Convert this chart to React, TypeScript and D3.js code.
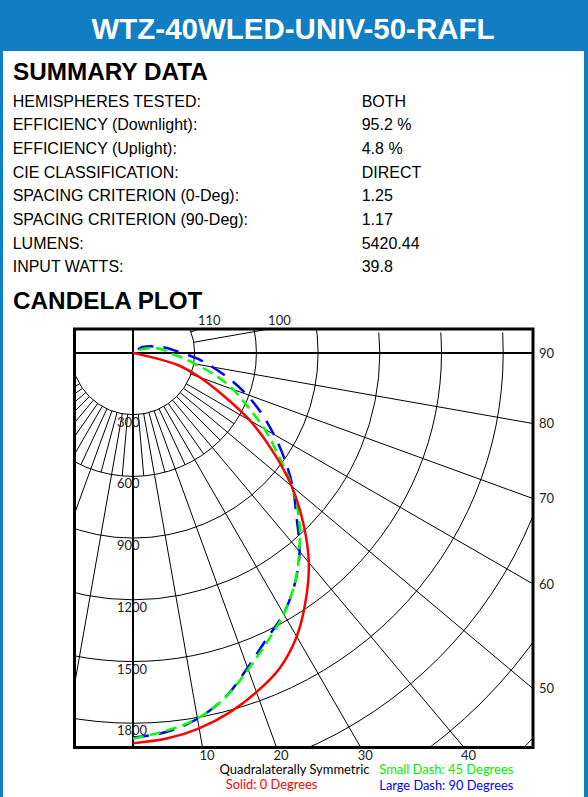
import React from 'react';
import * as d3 from 'd3';

const TITLE = 'WTZ-40WLED-UNIV-50-RAFL';
const SUMMARY_LABELS = [
  'HEMISPHERES TESTED:',
  'EFFICIENCY (Downlight):',
  'EFFICIENCY (Uplight):',
  'CIE CLASSIFICATION:',
  'SPACING CRITERION (0-Deg):',
  'SPACING CRITERION (90-Deg):',
  'LUMENS:',
  'INPUT WATTS:',
];
const SUMMARY_VALUES = ['BOTH', '95.2 %', '4.8 %', 'DIRECT', '1.25', '1.17', '5420.44', '39.8'];

// vertical angles (deg from nadir)
const ANGLES = [0, 5, 10, 15, 20, 25, 30, 35, 40, 45, 50, 55, 60, 65, 70, 75, 80, 85, 90, 95, 100, 105, 110, 115, 120, 125, 130, 135];
// candela per horizontal plane
const CD_0 = [1897, 1882, 1853, 1810, 1755, 1690, 1592, 1465, 1330, 1171, 1007, 827, 656, 478, 345, 225, 15, 0, 0, 0, 0, 0, 0, 0, 0, 0, 0, 0];
const CD_45 = [1875, 1844, 1804, 1734, 1637, 1547, 1466, 1370, 1258, 1142, 1009, 860, 738, 614, 518, 413, 304, 234, 178, 154, 125, 95, 65, 35, 15, 0, 0, 0];
const CD_90 = [1870, 1850, 1806, 1733, 1629, 1535, 1464, 1371, 1260, 1124, 1014, 900, 790, 687, 586, 486, 392, 315, 239, 190, 155, 118, 95, 75, 60, 40, 20, 0];

const RINGS = [300, 600, 900, 1200, 1500, 1800, 2100, 2400, 2700];
const RING_LABELS = [300, 600, 900, 1200, 1500, 1800];
const MAJOR_ANGLES = [-80, -70, -60, -50, -40, -30, -20, -10, 0, 10, 20, 30, 40, 50, 60, 70, 80, 90, 100, 110, 120];
const MINOR_ANGLES = [-55, -45, -35, -25, -15, -5, 5, 15, 25, 35, 45, 55];
const BOTTOM_LABELS = [10, 20, 30, 40];
const RIGHT_LABELS = [50, 60, 70, 80, 90];
const TOP_LABELS = [100, 110];

const W = 588;
const H = 797;
const CX = 133;
const CY = 353;
const L = 74.5;
const R = 533;
const T = 329;
const B = 747.5;
const BLUE = '#117dc2';

const rS = d3.scaleLinear().domain([0, 300]).range([0, 61.7]);
const rad = (d: number) => (d * Math.PI) / 180;
const xy = (deg: number, r: number): [number, number] => [CX + r * Math.sin(rad(deg)), CY + r * Math.cos(rad(deg))];

function curvePath(vals: number[]) {
  const pts: [number, number][] = [];
  for (let i = 0; i < ANGLES.length; i++) {
    pts.push(xy(ANGLES[i], rS(vals[i])));
    if (vals[i] === 0) break;
  }
  return d3.line<[number, number]>().curve(d3.curveCatmullRom.alpha(0.5))(pts) || '';
}

export default function App() {
  const plotFont = 'Lato, "Open Sans", sans-serif';
  const headFont = '"Liberation Sans", Arial, sans-serif';
  return (
    <svg width={W} height={H} style={{ position: 'absolute', left: 0, top: 0, display: 'block', background: '#fff' }}>
      <defs>
        <clipPath id="box">
          <rect x={L} y={T} width={R - L} height={B - T} />
        </clipPath>
        <clipPath id="boxArc">
          <rect x={L} y={T + 3.5} width={R - L} height={B - T - 3.5} />
        </clipPath>
      </defs>
      <rect x={0} y={0} width={W} height={H} fill="#fff" />
      {/* frame */}
      <rect x={0} y={0} width={W} height={51} fill={BLUE} />
      <rect x={0} y={0} width={3} height={H} fill={BLUE} />
      <rect x={584} y={0} width={4} height={H} fill={BLUE} />
      <text x={293} y={38.5} textAnchor="middle" fill="#fff" fontFamily={headFont} fontWeight="bold" fontSize={29.5}>
        {TITLE}
      </text>
      <text x={13} y={79.5} fill="#000" fontFamily={headFont} fontWeight="bold" fontSize={24.3}>SUMMARY DATA</text>
      {SUMMARY_LABELS.map((s, i) => (
        <text key={'l' + i} x={12.7} y={106.7 + i * 23.66} fontFamily={headFont} fontSize={16} fill="#000">{s}</text>
      ))}
      {SUMMARY_VALUES.map((s, i) => (
        <text key={'v' + i} x={361.7} y={106.7 + i * 23.66} fontFamily={headFont} fontSize={16} fill="#000">{s}</text>
      ))}
      <text x={13} y={309} fill="#000" fontFamily={headFont} fontWeight="bold" fontSize={24.3}>CANDELA PLOT</text>

      {/* grid */}
      <g clipPath="url(#box)" stroke="#000" strokeWidth={1} fill="none">
        {MAJOR_ANGLES.map((a) => {
          const [x1, y1] = xy(a, rS(300));
          const [x2, y2] = xy(a, 900);
          return <line key={'ma' + a} x1={x1} y1={y1} x2={x2} y2={y2} />;
        })}
        {MINOR_ANGLES.map((a) => {
          const [x1, y1] = xy(a, rS(300));
          const [x2, y2] = xy(a, rS(600));
          return <line key={'mi' + a} x1={x1} y1={y1} x2={x2} y2={y2} />;
        })}
        {RINGS.filter((c) => c <= 900).map((c) => (
          <circle key={'r' + c} cx={CX} cy={CY} r={rS(c)} />
        ))}
      </g>
      <g clipPath="url(#boxArc)" stroke="#000" strokeWidth={1} fill="none">
        {RINGS.filter((c) => c > 900).map((c) => (
          <circle key={'r' + c} cx={CX} cy={CY} r={rS(c)} />
        ))}
      </g>
      {/* axes */}
      <line x1={L} x2={R} y1={CY} y2={CY} stroke="#000" strokeWidth={2} />
      <line x1={CX} x2={CX} y1={T} y2={B} stroke="#000" strokeWidth={2} />

      {/* ring labels */}
      {RING_LABELS.map((c) => (
        <text key={'rl' + c} x={117} y={CY + rS(c) + 12} fontFamily={plotFont} fontSize={13} fill="#222">{c}</text>
      ))}

      {/* curves */}
      <g clipPath="url(#box)" fill="none" strokeLinecap="butt">
        <path d={curvePath(CD_90)} stroke="#0000ff" strokeWidth={2.5} strokeDasharray="16,10" />
        <path d={curvePath(CD_45)} stroke="#00ff00" strokeWidth={2.5} strokeDasharray="11,6" />
        <path d={curvePath(CD_0)} stroke="#ff0000" strokeWidth={2.5} />
      </g>

      {/* box */}
      <rect x={L} y={T} width={R - L} height={B - T} fill="none" stroke="#000" strokeWidth={3} />

      {/* angle labels */}
      {BOTTOM_LABELS.map((a) => (
        <text key={'b' + a} x={CX + (B - CY) * Math.tan(rad(a)) - 3} y={760} fontFamily={plotFont} fontSize={13} fill="#222">{a}</text>
      ))}
      {RIGHT_LABELS.map((a) => (
        <text key={'rt' + a} x={539} y={(a === 90 ? CY : CY + (R - CX) / Math.tan(rad(a))) + 4.7} fontFamily={plotFont} fontSize={13} fill="#222">{a}</text>
      ))}
      {TOP_LABELS.map((a) => (
        <text key={'t' + a} x={CX + (CY - T) * Math.tan(rad(180 - a)) - 1} y={325} fontFamily={plotFont} fontSize={13} fill="#222">{a}</text>
      ))}

      {/* legend */}
      <text x={219.5} y={773.5} fontFamily={plotFont} fontSize={12.4} textLength={150} lengthAdjust="spacingAndGlyphs" fill="#000">Quadralaterally Symmetric</text>
      <text x={225.7} y={788.5} fontFamily={plotFont} fontSize={12.4} textLength={91.6} lengthAdjust="spacingAndGlyphs" fill="#ff0000">Solid: 0 Degrees</text>
      <text x={379.3} y={774} fontFamily={plotFont} fontSize={12.4} textLength={134} lengthAdjust="spacingAndGlyphs" fill="#00ee00">Small Dash: 45 Degrees</text>
      <text x={379.3} y={789.5} fontFamily={plotFont} fontSize={12.4} textLength={134} lengthAdjust="spacingAndGlyphs" fill="#0000ff">Large Dash: 90 Degrees</text>
    </svg>
  );
}
